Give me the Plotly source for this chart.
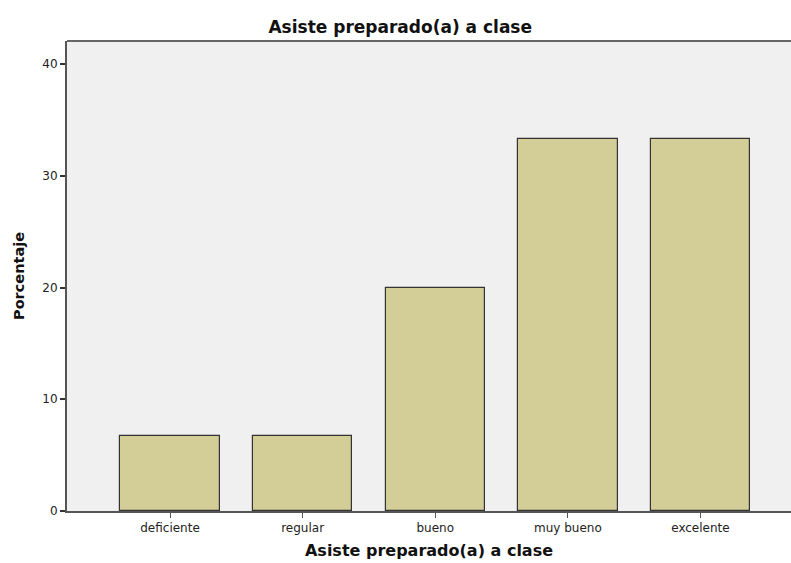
import plotly.graph_objects as go

categories = ["deficiente", "regular", "bueno", "muy bueno", "excelente"]
percentages = [6.67, 6.67, 20.0, 33.33, 33.33]
y_ticks = [0, 10, 20, 30, 40]

FONT = "DejaVu Sans, Verdana, sans-serif"

fig = go.Figure()
fig.add_trace(go.Bar(
    x=categories, y=percentages, width=0.75,
    marker=dict(color="#D3CE97", line=dict(color="#333333", width=1.2)),
    hoverinfo="x+y",
))

fig.update_layout(
    width=791, height=563, autosize=False,
    margin=dict(l=67, r=0, t=41, b=52),
    paper_bgcolor="white", plot_bgcolor="#F0F0F0",
    font=dict(family=FONT, size=12, color="#222222"),
    title=dict(text="<b>Asiste preparado(a) a clase</b>", x=0.506, xanchor="center",
               y=1 - 27/563, yanchor="middle", font=dict(family=FONT, size=17, color="#111111")),
    showlegend=False,
    bargap=0,
)
fig.update_xaxes(
    type="category", range=[-0.777, 4.683],
    showgrid=False, showline=True, linecolor="#555555", linewidth=2,
    ticks="outside", ticklen=5, tickcolor="#555555", tickwidth=1,
    tickfont=dict(family=FONT, size=12, color="#222222"),
    title=dict(text="<b>Asiste preparado(a) a clase</b>",
               font=dict(family=FONT, size=16, color="#111111"), standoff=10),
)
fig.update_yaxes(
    range=[0, 42.06], tickvals=y_ticks,
    showgrid=False, zeroline=False, showline=True, linecolor="#555555", linewidth=2,
    ticks="outside", ticklen=5, tickcolor="#333333", tickwidth=2,
    tickfont=dict(family=FONT, size=12, color="#222222"),
    title=dict(text="<b>Porcentaje</b>", font=dict(family=FONT, size=14.5, color="#111111"), standoff=14),
)
fig.add_shape(type="line", xref="paper", yref="paper", x0=0, x1=1, y0=1, y1=1,
              line=dict(color="#666666", width=2))

fig.write_html(
    "out.html",
    config={"displayModeBar": False, "responsive": False},
    post_script=("document.body.style.margin='0';document.body.style.overflow='hidden';"
                 "document.documentElement.style.overflow='hidden';"),
)
